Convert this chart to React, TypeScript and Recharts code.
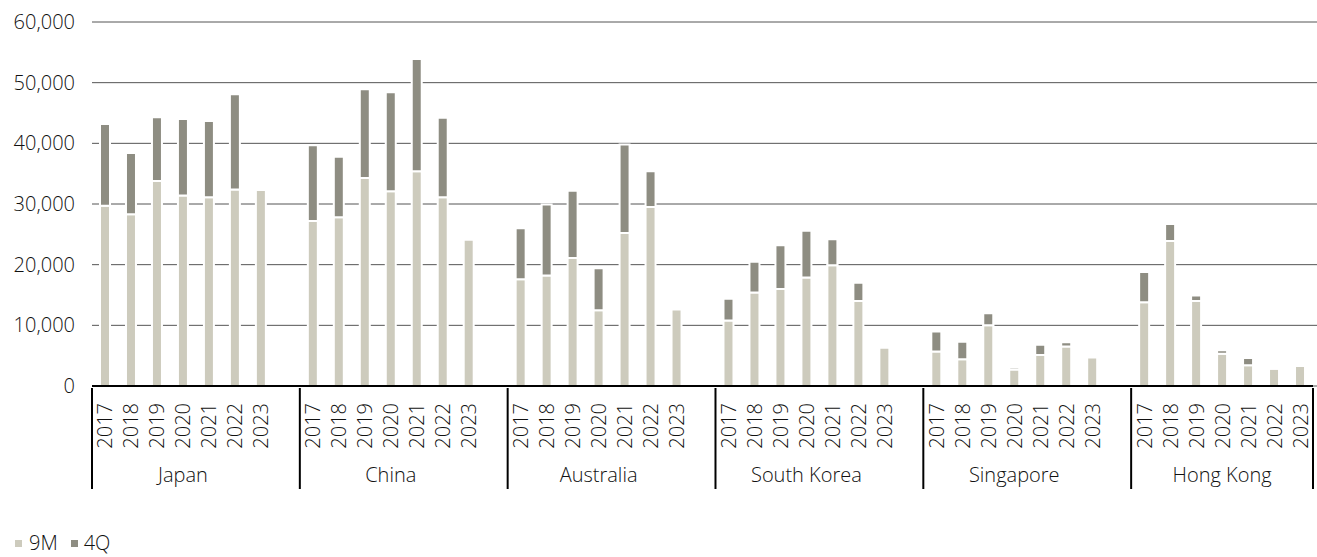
import { BarChart, Bar, XAxis, YAxis, CartesianGrid, Legend } from "recharts";

const countries = ["Japan", "China", "Australia", "South Korea", "Singapore", "Hong Kong"];
const years = ["2017", "2018", "2019", "2020", "2021", "2022", "2023"];

// 9M and 4Q values, 2017..2023 (2023 has no 4Q yet)
const japanNineM = [29700, 28300, 33800, 31400, 31100, 32400, 32300];
const japanFourQ = [13500, 10100, 10500, 12600, 12600, 15700, null];
const chinaNineM = [27200, 27800, 34300, 32100, 35400, 31100, 24100];
const chinaFourQ = [12500, 10000, 14600, 16300, 18500, 13100, null];
const australiaNineM = [17600, 18200, 21100, 12500, 25200, 29500, 12600];
const australiaFourQ = [8400, 11700, 11100, 6900, 14600, 5900, null];
const koreaNineM = [10800, 15400, 16000, 17900, 19900, 14000, 6300];
const koreaFourQ = [3600, 5100, 7200, 7700, 4300, 3000, null];
const singaporeNineM = [5700, 4400, 10000, 2700, 5100, 6500, 4700];
const singaporeFourQ = [3300, 2900, 2000, 400, 1700, 700, null];
const hongKongNineM = [13800, 23900, 14000, 5300, 3400, 2850, 3300];
const hongKongFourQ = [5000, 2800, 900, 600, 1200, 300, null];

const yTicks = [0, 10000, 20000, 30000, 40000, 50000, 60000];

const nineMSeries = [japanNineM, chinaNineM, australiaNineM, koreaNineM, singaporeNineM, hongKongNineM];
const fourQSeries = [japanFourQ, chinaFourQ, australiaFourQ, koreaFourQ, singaporeFourQ, hongKongFourQ];

type Row = { key: string; year: string; country: string; first: boolean; nineM: number | null; fourQ: number | null };

const rows: Row[] = [];
countries.forEach((c, ci) => {
  years.forEach((y, yi) => {
    rows.push({ key: `${c}-${y}`, year: y, country: c, first: yi === 0, nineM: nineMSeries[ci][yi], fourQ: fourQSeries[ci][yi] });
  });
  if (ci < countries.length - 1) {
    rows.push({ key: `gap-${ci}`, year: "", country: "", first: false, nineM: null, fourQ: null });
  }
});

const W = 1317;
const H = 557;
const LEFT = 92;
const RIGHT = 4;
const SLOT = (W - LEFT - RIGHT) / rows.length;
const FONT = "'Open Sans', 'Noto Sans', sans-serif";
const TEXT = "#111";
const LIGHT = "#cdcbbd";
const DARK = "#8e8d82";

const CategoryTick = (props: any) => {
  const { x, y, payload } = props;
  const row = rows[payload.index];
  if (!row) return null;
  const last = payload.index === rows.length - 1;
  return (
    <g>
      {row.year && (
        <text
          x={0}
          y={0}
          transform={`translate(${x}, ${y + 15}) rotate(-90)`}
          textAnchor="end"
          dominantBaseline="central"
          fontSize={20}
          fontWeight={300}
          fontFamily={FONT}
          fill={TEXT}
        >
          {row.year}
        </text>
      )}
      {row.first && (
        <>
          <line x1={x - SLOT / 2} x2={x - SLOT / 2} y1={y} y2={y + 101} stroke="#000" strokeWidth={2} />
          <text x={x + 3 * SLOT} y={y + 94} textAnchor="middle" fontSize={20} fontWeight={300} fontFamily={FONT} fill={TEXT}>
            {row.country}
          </text>
        </>
      )}
      {last && <line x1={x + SLOT / 2} x2={x + SLOT / 2} y1={y} y2={y + 101} stroke="#000" strokeWidth={2} />}
    </g>
  );
};

const LegendContent = () => (
  <div style={{ height: 51, position: "relative", fontFamily: FONT, fontWeight: 300, fontSize: 20, lineHeight: "22px", color: TEXT }}>
    <div style={{ position: "absolute", left: 15, top: 26, display: "flex", alignItems: "center" }}>
      <span style={{ width: 7, height: 7, background: LIGHT, display: "inline-block", marginRight: 7 }} />
      <span style={{ marginRight: 13 }}>9M</span>
      <span style={{ width: 7, height: 7, background: DARK, display: "inline-block", marginRight: 6 }} />
      <span>4Q</span>
    </div>
  </div>
);

export default function App() {
  return (
    <div style={{ position: "absolute", left: 0, top: 0, background: "#fff" }}>
      <BarChart width={W} height={H} data={rows} margin={{ top: 22, right: RIGHT, bottom: 0, left: 0 }} barCategoryGap={0}>
        <CartesianGrid
          vertical={false}
          horizontal={(p: any) => (
            <line key={p.key} x1={p.x1} x2={p.x2 + RIGHT} y1={p.y1} y2={p.y2} stroke="#555" strokeWidth={1} />
          )}
        />
        <XAxis
          dataKey="key"
          interval={0}
          height={120}
          tickLine={false}
          tickSize={0}
          axisLine={{ stroke: "#000", strokeWidth: 2 }}
          tick={<CategoryTick />}
        />
        <YAxis
          width={LEFT}
          domain={[0, 60000]}
          ticks={yTicks}
          axisLine={false}
          tickLine={false}
          tickSize={0}
          tickMargin={17}
          tickFormatter={(v: number) => v.toLocaleString("en-US")}
          tick={{ fontSize: 20, fontWeight: 300, fontFamily: FONT, fill: TEXT }}
        />
        <Legend verticalAlign="bottom" align="left" content={<LegendContent />} />
        <Bar dataKey="nineM" name="9M" stackId="a" fill={LIGHT} stroke="#fff" strokeWidth={2} barSize={10} isAnimationActive={false} />
        <Bar dataKey="fourQ" name="4Q" stackId="a" fill={DARK} stroke="#fff" strokeWidth={2} barSize={10} isAnimationActive={false} />
      </BarChart>
    </div>
  );
}
